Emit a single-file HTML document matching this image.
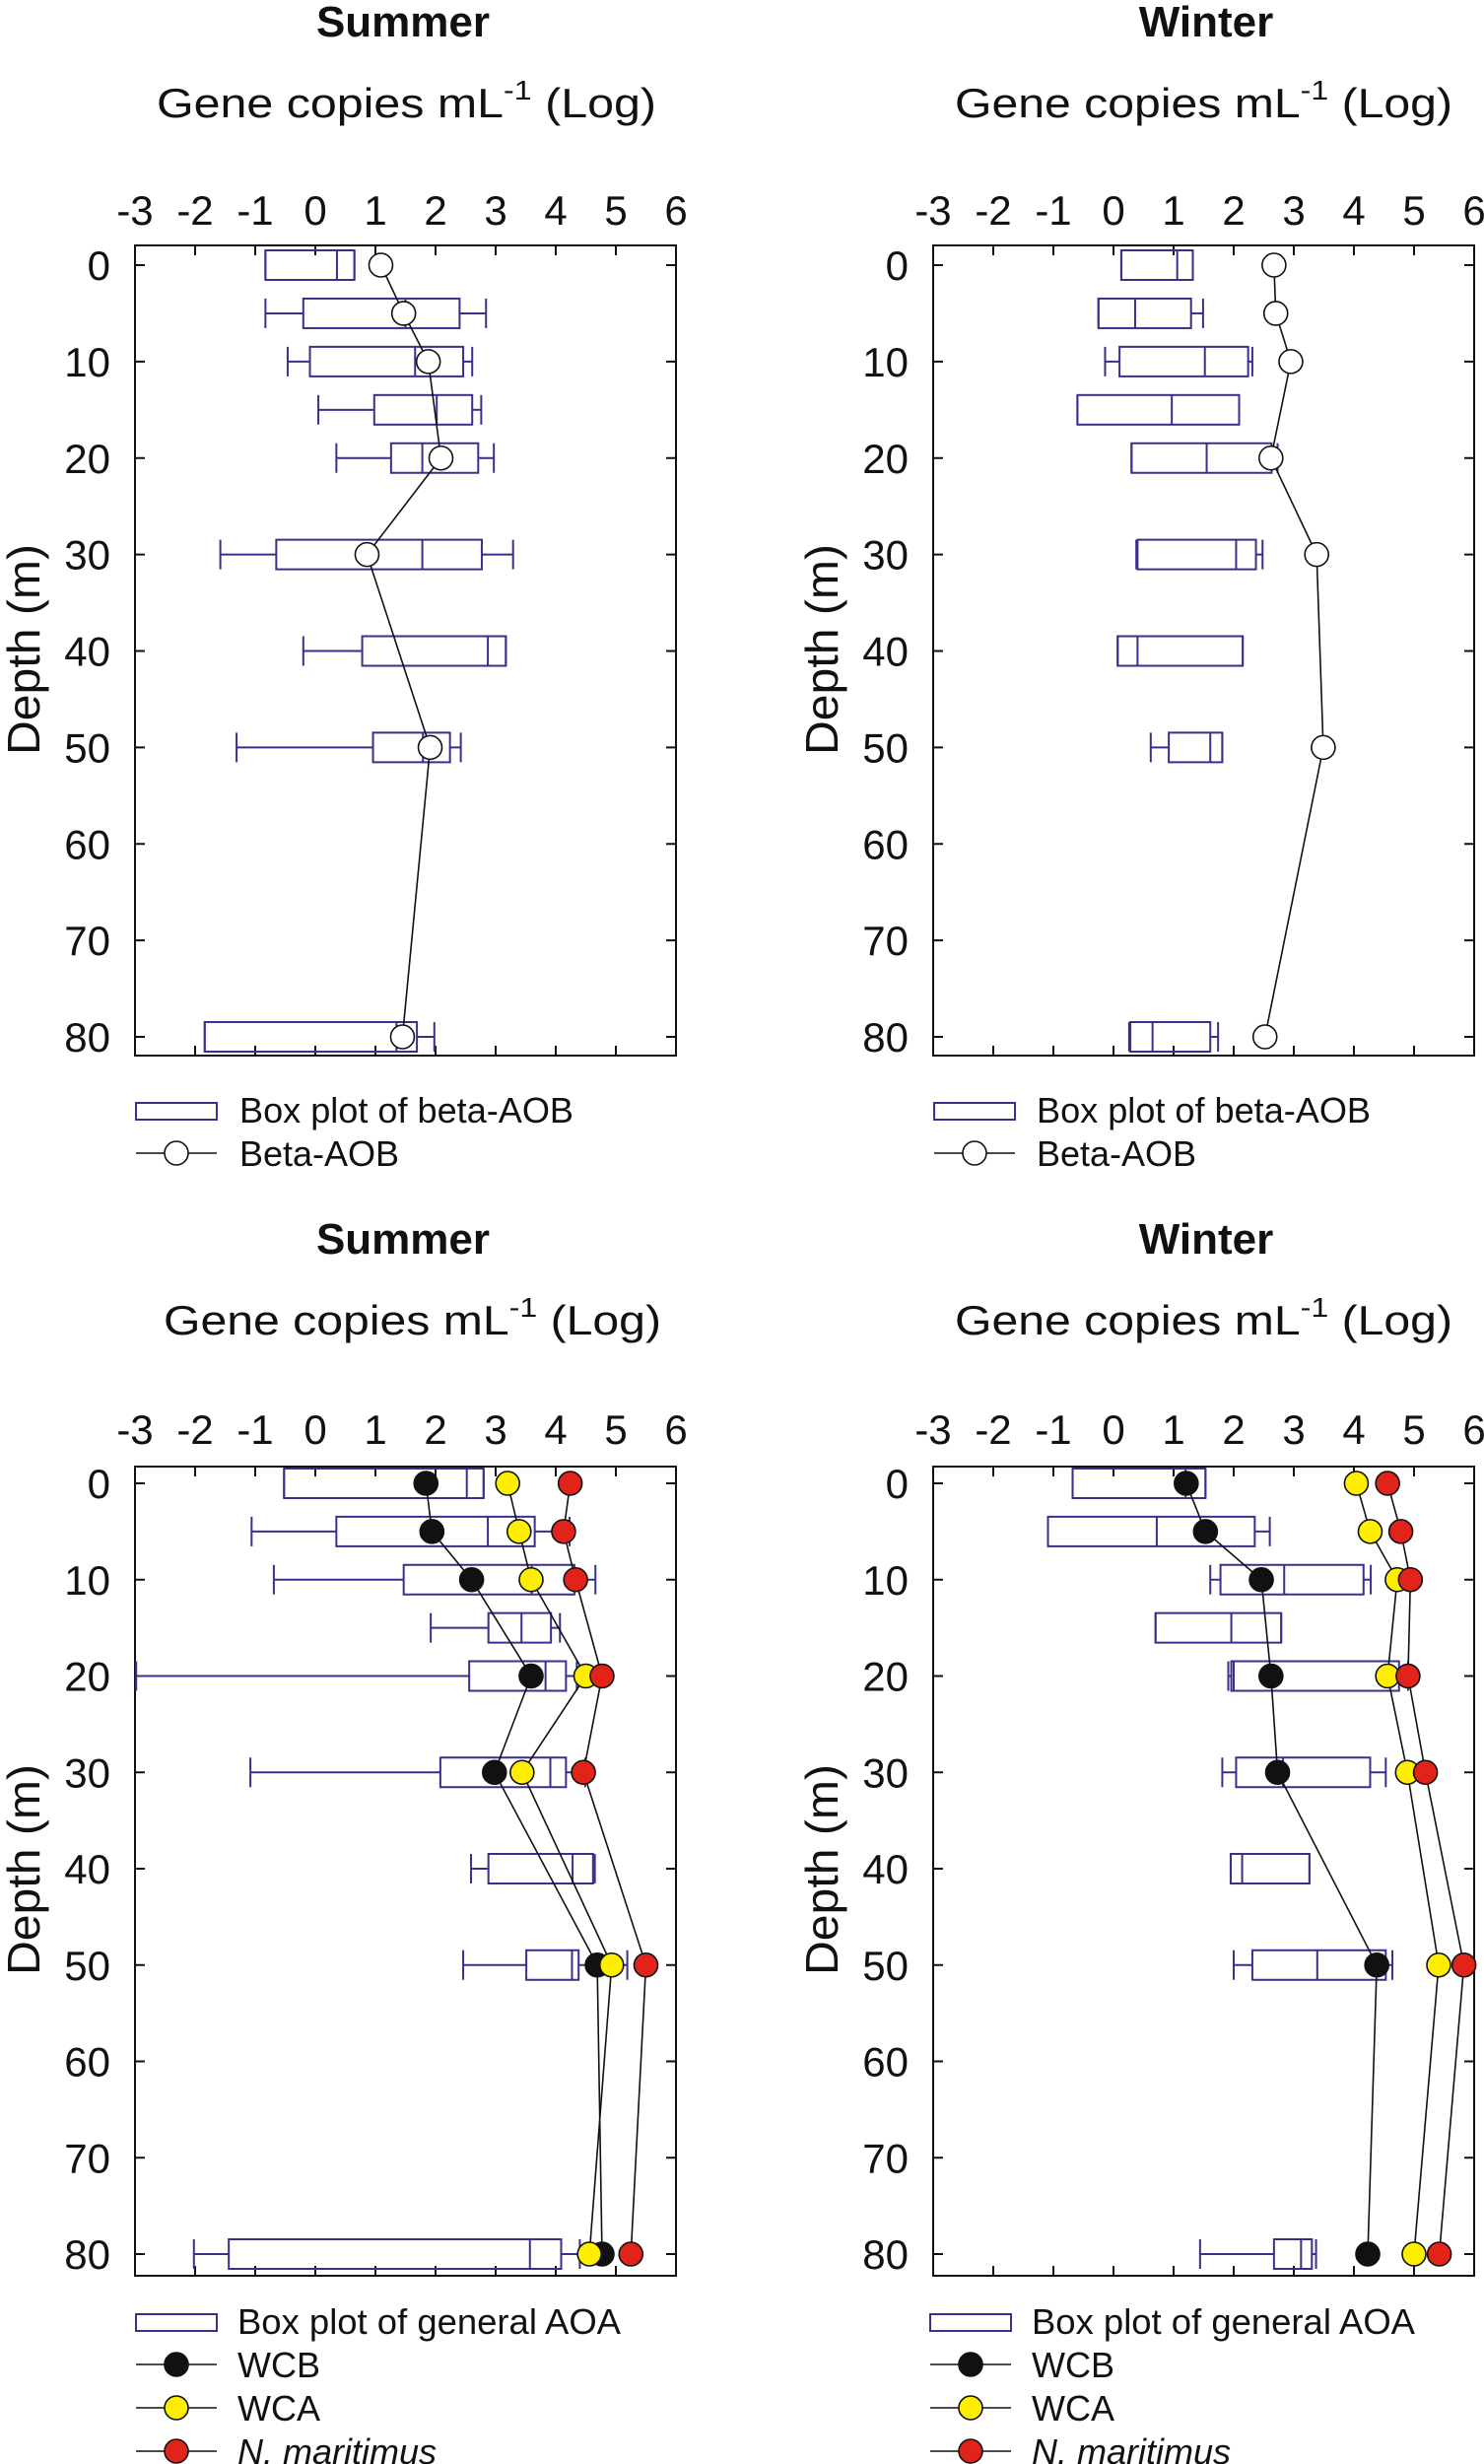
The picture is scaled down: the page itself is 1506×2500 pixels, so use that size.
<!DOCTYPE html>
<html><head><meta charset="utf-8"><style>
html,body{margin:0;padding:0;background:#fff}
svg{display:block}
text{font-family:"Liberation Sans",Arial,sans-serif;fill:#111}
</style></head><body>
<svg id="chart" width="1506" height="2500" viewBox="0 0 1506 2500" xmlns="http://www.w3.org/2000/svg"></svg>
<script>
// ---- data ----
const depths = [0,5,10,15,20,30,40,50,80];
const lineDepths = [0,5,10,20,30,50,80];
const xTicks = [-3,-2,-1,0,1,2,3,4,5,6];
const yTicks = [0,10,20,30,40,50,60,70,80];

// Summer beta-AOB box stats
const sumBetaWl = [-0.83,-0.83,-0.46,0.05,0.35,-1.58,-0.2,-1.31,-1.84];
const sumBetaQ1 = [-0.83,-0.2,-0.09,0.98,1.26,-0.65,0.78,0.96,-1.84];
const sumBetaMed = [0.36,1.5,1.66,2.02,1.78,1.78,2.87,1.79,1.35];
const sumBetaQ3 = [0.65,2.4,2.46,2.61,2.71,2.77,3.17,2.24,1.69];
const sumBetaWh = [0.65,2.84,2.61,2.76,2.97,3.29,3.17,2.42,1.98];
const sumBetaLine = [1.09,1.47,1.88,2.09,0.86,1.91,1.45];

// Winter beta-AOB
const winBetaWl = [0.13,-0.25,-0.14,-0.60,0.30,0.38,0.07,0.62,0.26];
const winBetaQ1 = [0.13,-0.25,0.10,-0.60,0.30,0.40,0.07,0.92,0.28];
const winBetaMed = [1.06,0.36,1.52,0.97,1.55,2.04,0.40,1.61,0.65];
const winBetaQ3 = [1.32,1.29,2.24,2.09,2.63,2.37,2.15,1.81,1.61];
const winBetaWh = [1.32,1.49,2.31,2.09,2.73,2.48,2.15,1.81,1.74];
const winBetaLine = [2.67,2.70,2.95,2.62,3.38,3.49,2.52];

// Summer AOA
const sumAoaWl = [-0.52,-1.06,-0.69,1.92,-2.98,-1.08,2.59,2.46,-2.02];
const sumAoaQ1 = [-0.52,0.35,1.47,2.88,2.56,2.08,2.88,3.51,-1.44];
const sumAoaMed = [2.52,2.87,3.6,3.43,3.83,3.91,4.28,4.27,3.57];
const sumAoaQ3 = [2.80,3.65,4.31,3.92,4.17,4.17,4.62,4.38,4.09];
const sumAoaWh = [2.80,4.23,4.66,4.07,4.35,4.49,4.65,5.19,4.4];
const sumWCB = [1.84,1.94,2.60,3.59,2.98,4.69,4.77];
const sumWCA = [3.20,3.39,3.59,4.50,3.44,4.93,4.56];
const sumNmar = [4.24,4.13,4.33,4.77,4.46,5.50,5.25];

// Winter AOA
const winAoaWl = [-0.68,-1.09,1.61,0.70,1.91,1.81,1.95,2.00,1.44];
const winAoaQ1 = [-0.68,-1.09,1.78,0.70,1.96,2.04,1.95,2.31,2.67];
const winAoaMed = [1.2,0.72,2.84,1.96,2.0,2.82,2.14,3.39,3.12];
const winAoaQ3 = [1.53,2.35,4.16,2.79,4.75,4.27,3.26,4.53,3.30];
const winAoaWh = [1.53,2.60,4.28,2.79,4.90,4.53,3.26,4.64,3.37];
const winWCB = [1.21,1.53,2.46,2.62,2.73,4.38,4.23];
const winWCA = [4.04,4.27,4.72,4.56,4.89,5.41,5.00];
const winNmar = [4.56,4.78,4.94,4.90,5.19,5.83,5.42];

// ---- drawing ----
const NS='http://www.w3.org/2000/svg';
const svg=document.getElementById('chart');
const BOX='#3b2f8c';
const R=12;
function mk(tag,attrs,parent){const e=document.createElementNS(NS,tag);for(const k in attrs)e.setAttribute(k,attrs[k]);(parent||svg).appendChild(e);return e;}

function panel(p){
  const g=mk('g',{});
  
  
  const X=v=>p.x0+(v+3)/9*(p.x1-p.x0);
  const Y=d=>p.d0+d/80*(p.d80-p.d0);
  const t=mk('text',{x:p.tcx,y:p.titleY,'text-anchor':'middle','font-size':44,'font-weight':'bold'},g);
  t.textContent=p.title;
  
  
  const xt=mk('text',{x:p.gx0,y:p.gy,'font-size':42,textLength:p.gx1-p.gx0,lengthAdjust:'spacingAndGlyphs'},g);
  
  
  xt.innerHTML='Gene copies mL<tspan dy="-18" font-size="28">-1</tspan><tspan dy="18"> (Log)</tspan>';
  const yt=mk('text',{x:0,y:0,'font-size':46,'text-anchor':'middle',textLength:214,lengthAdjust:'spacingAndGlyphs',transform:`translate(${p.dx},${p.dcy}) rotate(-90)`},g);
  yt.textContent='Depth (m)';
  
  
  const fr=mk('rect',{x:p.x0,y:p.top,width:p.x1-p.x0,height:p.bot-p.top,fill:'none',stroke:'#111','stroke-width':2},g);
  
  
  xTicks.forEach(v=>{
    const x=X(v);
    mk('line',{x1:x,y1:p.top,x2:x,y2:p.top+10,stroke:'#111','stroke-width':2},g);
    mk('line',{x1:x,y1:p.bot,x2:x,y2:p.bot-10,stroke:'#111','stroke-width':2},g);
    const tl=mk('text',{x:x,y:p.tickY,'text-anchor':'middle','font-size':42},g);
    tl.textContent=String(v);
    
    
  });
  yTicks.forEach(d=>{
    const y=Y(d);
    mk('line',{x1:p.x0,y1:y,x2:p.x0+10,y2:y,stroke:'#111','stroke-width':2},g);
    mk('line',{x1:p.x1,y1:y,x2:p.x1-10,y2:y,stroke:'#111','stroke-width':2},g);
    const tl=mk('text',{x:p.x0-25,y:y+15,'text-anchor':'end','font-size':42},g);
    tl.textContent=String(d);
    
    
  });
  const hh=15;
  depths.forEach((d,i)=>{
    const y=Y(d);
    const bg=mk('g',{stroke:BOX,'stroke-width':2,fill:'none'},g);
    
    
    const wl=X(p.wl[i]),q1=X(p.q1[i]),md=X(p.med[i]),q3=X(p.q3[i]),wh=X(p.wh[i]);
    mk('line',{x1:wl,y1:y,x2:q1,y2:y},bg);
    mk('line',{x1:q3,y1:y,x2:wh,y2:y},bg);
    mk('line',{x1:wl,y1:y-hh,x2:wl,y2:y+hh},bg);
    mk('line',{x1:wh,y1:y-hh,x2:wh,y2:y+hh},bg);
    mk('rect',{x:q1,y:y-hh,width:Math.max(q3-q1,0),height:2*hh},bg);
    mk('line',{x1:md,y1:y-hh,x2:md,y2:y+hh},bg);
  });
  p.series.forEach(s=>{
    const sg=mk('g',{},g);
    
    
    const pts=lineDepths.map((d,i)=>X(s.vals[i])+','+Y(d)).join(' ');
    mk('polyline',{points:pts,fill:'none',stroke:'#111','stroke-width':1.6},sg);
    lineDepths.forEach((d,i)=>{
      const c=mk('circle',{cx:X(s.vals[i]),cy:Y(d),r:R,fill:s.fill,stroke:'#111','stroke-width':1.6},sg);
      
      
    });
  });
  const lg=mk('g',{},g);
  
  
  mk('rect',{x:p.lx,y:p.lboxY,width:82,height:17,fill:'none',stroke:BOX,'stroke-width':2},lg);
  const lt=mk('text',{x:p.ltx,y:p.lboxY+20,'font-size':36,textLength:p.boxTextW,lengthAdjust:'spacingAndGlyphs'},lg);
  lt.textContent=p.boxLabel;
  p.series.forEach((s,k)=>{
    const cy=p.lrow0+k*p.lstep;
    mk('line',{x1:p.lx,y1:cy,x2:p.lx+82,y2:cy,stroke:'#111','stroke-width':1.6},lg);
    mk('circle',{cx:p.lx+41,cy:cy,r:R,fill:s.fill,stroke:'#111','stroke-width':1.6},lg);
    const tx=mk('text',{x:p.ltx,y:cy+13,'font-size':36,'font-style':s.italic?'italic':'normal'},lg);
    tx.textContent=s.label;
  });
}

const TOP={top:249,bot:1071,d0:269,d80:1052,titleY:37,gy:119,tickY:228,dcy:659,lboxY:1119,lrow0:1170,lstep:42};
const BOT={top:1488,bot:2309,d0:1505,d80:2287,titleY:1272,gy:1354,tickY:1465,dcy:1897,lboxY:2348,lrow0:2399,lstep:44};

panel(Object.assign({},TOP,{name:'panel-summer-beta-aob',title:'Summer',x0:137,x1:686,tcx:409,gx0:159,gx1:666,dx:40,
  wl:sumBetaWl,q1:sumBetaQ1,med:sumBetaMed,q3:sumBetaQ3,wh:sumBetaWh,
  series:[{name:'beta-aob-line',label:'Beta-AOB',fill:'#fff',vals:sumBetaLine}],
  lx:138,ltx:243,boxLabel:'Box plot of beta-AOB',boxTextW:339}));
panel(Object.assign({},TOP,{name:'panel-winter-beta-aob',title:'Winter',x0:947,x1:1496,tcx:1224,gx0:969,gx1:1474,dx:850,
  wl:winBetaWl,q1:winBetaQ1,med:winBetaMed,q3:winBetaQ3,wh:winBetaWh,
  series:[{name:'beta-aob-line',label:'Beta-AOB',fill:'#fff',vals:winBetaLine}],
  lx:948,ltx:1052,boxLabel:'Box plot of beta-AOB',boxTextW:339}));
panel(Object.assign({},BOT,{name:'panel-summer-aoa',title:'Summer',x0:137,x1:686,tcx:409,gx0:166,gx1:671,dx:40,
  wl:sumAoaWl,q1:sumAoaQ1,med:sumAoaMed,q3:sumAoaQ3,wh:sumAoaWh,
  series:[{name:'wcb-line',label:'WCB',fill:'#111',vals:sumWCB},
          {name:'wca-line',label:'WCA',fill:'#ffee00',vals:sumWCA},
          {name:'n-maritimus-line',label:'N. maritimus',fill:'#e2231a',italic:true,vals:sumNmar}],
  lx:138,ltx:241,boxLabel:'Box plot of general AOA',boxTextW:389}));
panel(Object.assign({},BOT,{name:'panel-winter-aoa',title:'Winter',x0:947,x1:1496,tcx:1224,gx0:969,gx1:1474,dx:850,
  wl:winAoaWl,q1:winAoaQ1,med:winAoaMed,q3:winAoaQ3,wh:winAoaWh,
  series:[{name:'wcb-line',label:'WCB',fill:'#111',vals:winWCB},
          {name:'wca-line',label:'WCA',fill:'#ffee00',vals:winWCA},
          {name:'n-maritimus-line',label:'N. maritimus',fill:'#e2231a',italic:true,vals:winNmar}],
  lx:944,ltx:1047,boxLabel:'Box plot of general AOA',boxTextW:389}));
</script>
</body></html>
